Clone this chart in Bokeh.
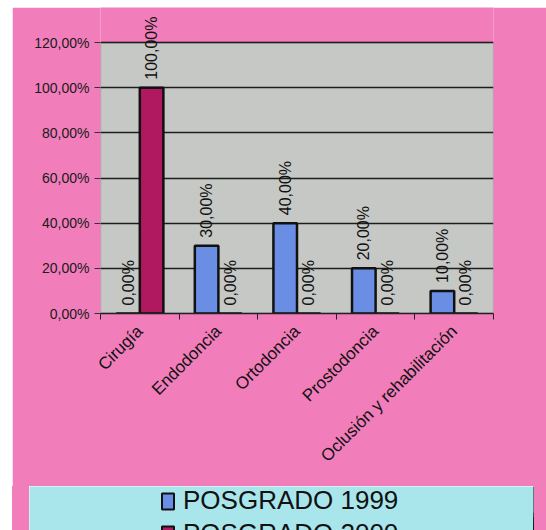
import math
from bokeh.plotting import figure
from bokeh.layouts import column, row
from bokeh.models import (ColumnDataSource, FixedTicker, LabelSet, Legend, LegendItem,
                          BoxAnnotation, Range1d, Spacer)
from bokeh.core.properties import value
from bokeh.transform import dodge
from bokeh.embed import file_html
from bokeh.resources import INLINE

# ---- data ----
categories = ["Cirugía", "Endodoncia", "Ortodoncia", "Prostodoncia", "Oclusión y rehabilitación"]
posgrado_1999 = [0.0, 0.30, 0.40, 0.20, 0.10]
posgrado_2000 = [1.00, 0.0, 0.0, 0.0, 0.0]
series_names = ["POSGRADO 1999", "POSGRADO 2000"]
y_ticks = [0.0, 0.2, 0.4, 0.6, 0.8, 1.0, 1.2]
y_tick_labels = ["0,00%", "20,00%", "40,00%", "60,00%", "80,00%", "100,00%", "120,00%"]

# ---- style ----
FONT = "Liberation Sans"
PINK = "#F17DBA"
PLOT_GRAY = "#C6C8C5"
BLUE = "#6A8EE3"
MAROON = "#B0195F"
CYAN = "#A9E6EC"
BAR_W = 0.3
W, MAIN_H, LEG_H = 534, 479, 44
BORDER_L, BORDER_B = 88, 173
FRAME_W, AREA_H = 393, 271
FRAME_H = MAIN_H - BORDER_B


def fmt(v):
    return f"{v * 100:.2f}".replace(".", ",") + "%"


centers = [i + 0.5 for i in range(len(categories))]
boundaries = list(range(len(categories) + 1))

src = ColumnDataSource(dict(
    x=centers,
    y1999=posgrado_1999,
    y2000=posgrado_2000,
    l1999=[fmt(v) for v in posgrado_1999],
    l2000=[fmt(v) for v in posgrado_2000],
))

# frame spans from canvas top to the x axis; the grey plot area covers 0..120 %
p = figure(width=W, height=MAIN_H, x_range=Range1d(0, len(categories)),
           y_range=Range1d(y_ticks[0], y_ticks[-1] * FRAME_H / AREA_H),
           output_backend="svg", toolbar_location=None,
           min_border_left=BORDER_L, min_border_right=W - BORDER_L - FRAME_W,
           min_border_top=0, min_border_bottom=BORDER_B)
p.background_fill_color = PINK
p.border_fill_color = PINK
p.outline_line_color = None

p.add_layout(BoxAnnotation(left=0, right=len(categories), bottom=y_ticks[0], top=y_ticks[-1],
                           fill_color=PLOT_GRAY, fill_alpha=1,
                           line_color="#3A3A3A", line_width=1.3, level="image"))

# grid
p.xgrid.visible = False
p.ygrid.ticker = FixedTicker(ticks=y_ticks)
p.ygrid.grid_line_color = "#1E1E1E"
p.ygrid.grid_line_width = 1.3

# bars
r1 = p.vbar(x=dodge("x", -BAR_W / 2), top="y1999", width=BAR_W, source=src,
            fill_color=BLUE, line_color="#111111", line_width=2.5)
r2 = p.vbar(x=dodge("x", BAR_W / 2), top="y2000", width=BAR_W, source=src,
            fill_color=MAROON, line_color="#111111", line_width=2.5)

# value labels
for col, lab, off in (("y1999", "l1999", -BAR_W / 2), ("y2000", "l2000", BAR_W / 2)):
    p.add_layout(LabelSet(x=dodge("x", off), y=col, text=lab, source=src,
                          angle=math.pi / 2, text_align="left", text_baseline="middle",
                          y_offset=8, text_font=value(FONT), text_font_size="16px",
                          text_color="#111111"))

# x axis
p.xaxis.ticker = FixedTicker(ticks=centers, minor_ticks=boundaries)
p.xaxis.major_label_overrides = {c: name for c, name in zip(centers, categories)}
p.xaxis.major_tick_line_color = None
p.xaxis.minor_tick_in = 0
p.xaxis.minor_tick_out = 6
p.xaxis.minor_tick_line_color = "#222222"
p.xaxis.axis_line_color = "#222222"
p.xaxis.axis_line_width = 1.5
p.xaxis.major_label_orientation = math.pi / 4
p.xaxis.major_label_standoff = 9
p.xaxis.major_label_text_font = FONT
p.xaxis.major_label_text_font_size = "17px"
p.xaxis.major_label_text_color = "#111111"

# y axis
p.yaxis.ticker = FixedTicker(ticks=y_ticks)
p.yaxis.major_label_overrides = {t: l for t, l in zip(y_ticks, y_tick_labels)}
p.yaxis.major_tick_in = 0
p.yaxis.major_tick_out = 6
p.yaxis.minor_tick_line_color = None
p.yaxis.axis_line_color = None
p.yaxis.major_tick_line_color = "#333333"
p.yaxis.major_label_text_font = FONT
p.yaxis.major_label_text_font_size = "14px"
p.yaxis.major_label_text_color = "#1A1A1A"

# ---- legend strip (bars of the same data fall outside its range) ----
PAD_L, PAD_R = 17, 12
leg = figure(width=W - PAD_L - PAD_R, height=LEG_H, x_range=Range1d(-2, -1),
             y_range=Range1d(0, 1),
             output_backend="svg", toolbar_location=None,
             x_axis_location=None, y_axis_location=None,
             min_border_left=0, min_border_right=0, min_border_top=0, min_border_bottom=0)
leg.background_fill_color = CYAN
leg.border_fill_color = CYAN
leg.outline_line_color = None
leg.grid.visible = False
lr1 = leg.vbar(x="x", top="y1999", width=BAR_W, source=src,
               fill_color=BLUE, line_color="#111111", line_width=2)
lr2 = leg.vbar(x="x", top="y2000", width=BAR_W, source=src,
               fill_color=MAROON, line_color="#111111", line_width=2)
legend = Legend(items=[LegendItem(label=series_names[0], renderers=[lr1]),
                       LegendItem(label=series_names[1], renderers=[lr2])],
                location=(131, -19), orientation="vertical",
                background_fill_alpha=0, border_line_color=None,
                label_text_font=FONT, label_text_font_size="26px",
                label_text_color="#111111",
                glyph_width=15, glyph_height=20, label_height=24,
                spacing=2, padding=0, margin=0, label_standoff=8)
leg.add_layout(legend)

pink_css = {"background-color": PINK}
legend_row = row(Spacer(width=PAD_L, height=LEG_H, styles=pink_css), leg,
                 Spacer(width=PAD_R, height=LEG_H, styles=pink_css), spacing=0)
chart = column(p, legend_row, spacing=0)
layout = column(Spacer(height=7), row(Spacer(width=12), chart, spacing=0), spacing=0)
open("out.html", "w").write(file_html(layout, INLINE))
